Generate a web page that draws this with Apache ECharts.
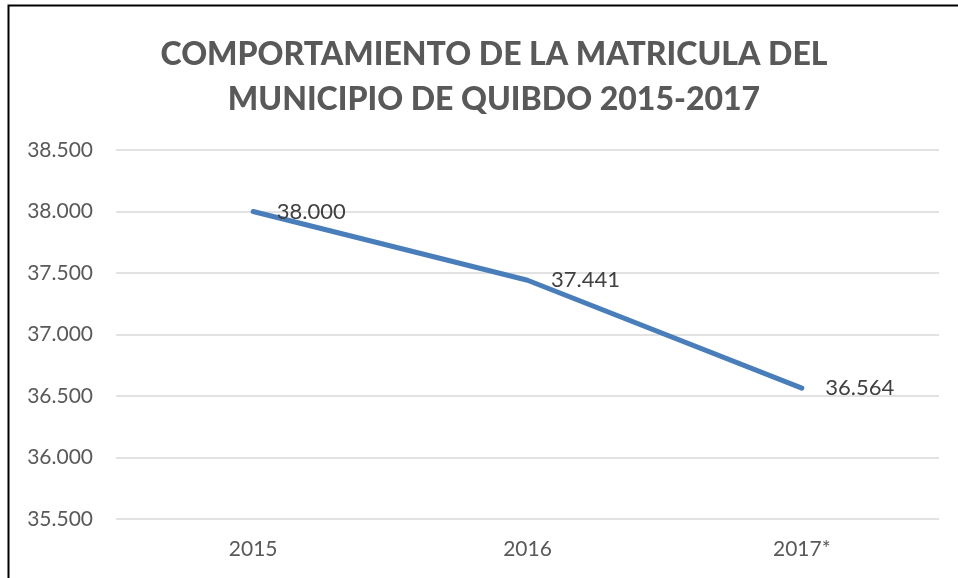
<!DOCTYPE html>
<html lang="es">
<head>
    <meta charset="UTF-8">
    <title>Matricula Quibdo</title>
    <script src="https://cdn.jsdelivr.net/npm/echarts@6/dist/echarts.min.js"></script>
    <style>
        html, body { margin: 0; padding: 0; background: #fff; }
        #main { width: 958px; height: 578px; }
    </style>
</head>
<body>
<div id="main"></div>
<script type="text/javascript">
    // datos del grafico
    var anios = ['2015', '2016', '2017*'];
    var matricula = [38000, 37441, 36564];
    var yMin = 35500, yMax = 38500, yPaso = 500;

    function puntos(v) {
        return String(v).replace(/\B(?=(\d{3})+(?!\d))/g, '.');
    }

    var myChart = echarts.init(document.getElementById('main'));

    var option = {
        backgroundColor: '#fff',
        textStyle: { fontFamily: 'Lato' },
        title: {
            text: 'COMPORTAMIENTO DE LA MATRICULA DEL\nMUNICIPIO DE QUIBDO 2015-2017',
            left: 489,
            textAlign: 'center',
            top: 27,
            textStyle: {
                fontFamily: 'Lato',
                fontSize: 32,
                fontWeight: 900,
                color: '#595959',
                lineHeight: 45
            }
        },
        graphic: [{
            type: 'polyline',
            shape: { points: [[8.5, 600], [8.5, 5.5], [970, 5.5]] },
            style: { stroke: '#000', lineWidth: 2, fill: null }
        }],
        grid: { left: 116, right: 19, top: 150, bottom: 59 },
        xAxis: {
            type: 'category',
            data: anios,
            boundaryGap: true,
            axisLine: { show: false },
            axisTick: { show: false },
            axisLabel: { color: '#595959', fontSize: 21, margin: 20, fontFamily: 'Lato' }
        },
        yAxis: {
            type: 'value',
            min: yMin,
            max: yMax,
            interval: yPaso,
            axisLine: { show: false },
            axisTick: { show: false },
            splitLine: { lineStyle: { color: '#d9d9d9', width: 1.5 } },
            axisLabel: {
                color: '#595959', fontSize: 21, margin: 23, fontFamily: 'Lato',
                formatter: function (v) { return puntos(v.toFixed(0)); }
            }
        },
        series: [{
            type: 'line',
            data: matricula,
            symbol: 'circle',
            symbolSize: 3,
            showSymbol: true,
            itemStyle: { color: '#4a7ebb' },
            lineStyle: { color: '#4a7ebb', width: 5, cap: 'round', join: 'round' },
            label: {
                show: true,
                position: 'right',
                distance: 22,
                color: '#404040',
                fontSize: 22,
                fontFamily: 'Lato',
                formatter: function (p) { return puntos(p.value); }
            },
            animation: false
        }],
        animation: false
    };

    myChart.setOption(option);
</script>
</body>
</html>
